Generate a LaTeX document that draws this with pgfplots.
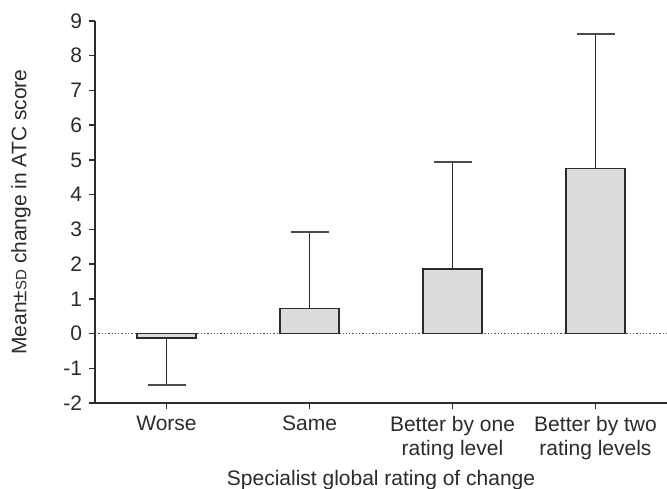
\documentclass[border=0pt]{standalone}
\usepackage{pgfplots}
\pgfplotsset{compat=1.18}
\usepackage{fontspec}
\setmainfont{Liberation Sans}
\definecolor{barfill}{HTML}{DCDCDD}
\definecolor{ink}{HTML}{2B2B2B}

\begin{document}
\begin{tikzpicture}
\begin{axis}[
  name=ax,
  scale only axis,
  width=286pt, height=191pt,
  xmin=-0.5, xmax=3.5,
  ymin=-2, ymax=9,
  axis lines*=left,
  axis line style={ink, line width=0.75pt},
  xtick={0,1,2,3},
  xticklabels={Worse, Same, Better by one\\rating level, Better by two\\rating levels},
  ytick={-2,-1,0,1,2,3,4,5,6,7,8,9},
  tick align=outside,
  major tick length=3pt,
  tick style={ink, line width=0.75pt},
  x tick label style={align=center, text=ink, font=\fontsize{10.5}{12}\selectfont},
  y tick label style={text=ink, font=\fontsize{10.5}{12}\selectfont},
  /pgf/number format/assume math mode=true,
  xlabel={Specialist global rating of change},
  ylabel={Mean±{\fontsize{7.5}{9}\selectfont SD} change in ATC score},
  label style={text=ink, font=\fontsize{10.5}{12}\selectfont},
  xlabel style={at={(axis description cs:0.5,0)}, anchor=base, yshift=-41.5pt},
  ylabel style={at={(axis description cs:0,0.5)}, anchor=center, yshift=37pt},
]
% zero reference line
\addplot[densely dotted, ink!80, line width=0.65pt] coordinates {(-0.5,0) (3.5,0)};

% worse: error bar downward only
\addplot[ybar, bar width=0.41, bar shift=0pt, fill=barfill, draw=ink, line width=0.8pt,
  error bars/.cd, y dir=minus, y explicit,
  error bar style={ink, line width=0.8pt},
  error mark options={rotate=90, mark size=9.5pt, ink!85, line width=1pt}]
  coordinates {(0,-0.12) -= (0,1.37)};

% the rest: error bars upward only
\addplot[ybar, bar width=0.41, bar shift=0pt, fill=barfill, draw=ink, line width=0.8pt,
  error bars/.cd, y dir=plus, y explicit,
  error bar style={ink, line width=0.8pt},
  error mark options={rotate=90, mark size=9.5pt, ink!85, line width=1pt}]
  coordinates {(1,0.72) += (0,2.20) (2,1.86) += (0,3.08) (3,4.75) += (0,3.87)};
\end{axis}
\pgfresetboundingbox
\path ([shift={(-47.5pt,-43pt)}]ax.south west) rectangle ([shift={(0pt,10.5pt)}]ax.north east);
\end{tikzpicture}
\end{document}
